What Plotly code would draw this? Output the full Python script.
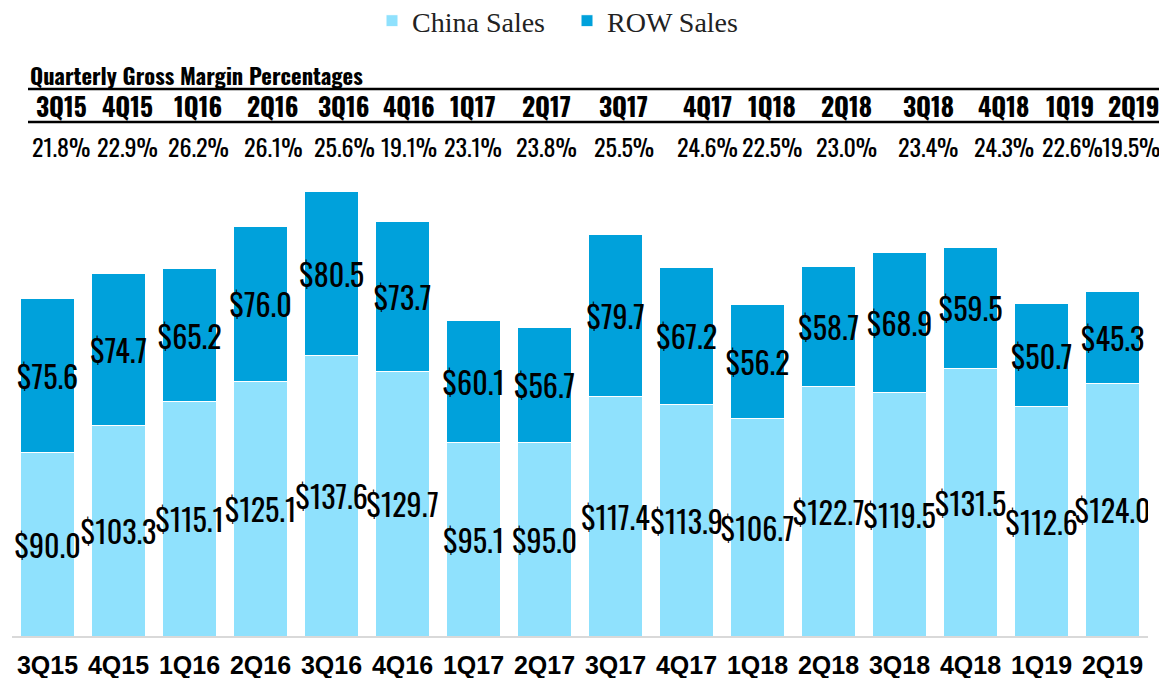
import plotly.graph_objects as go

quarters = ["3Q15", "4Q15", "1Q16", "2Q16", "3Q16", "4Q16", "1Q17", "2Q17",
            "3Q17", "4Q17", "1Q18", "2Q18", "3Q18", "4Q18", "1Q19", "2Q19"]
china_sales = [90.0, 103.3, 115.1, 125.1, 137.6, 129.7, 95.1, 95.0,
               117.4, 113.9, 106.7, 122.7, 119.5, 131.5, 112.6, 124.0]
row_sales = [75.6, 74.7, 65.2, 76.0, 80.5, 73.7, 60.1, 56.7,
             79.7, 67.2, 56.2, 58.7, 68.9, 59.5, 50.7, 45.3]
gross_margin = ["21.8%", "22.9%", "26.2%", "26.1%", "25.6%", "19.1%", "23.1%", "23.8%",
                "25.5%", "24.6%", "22.5%", "23.0%", "23.4%", "24.3%", "22.6%", "19.5%"]

# header table column centres (page pixels), uneven like the source table
header_x = [61, 127, 198, 273, 344, 409, 473, 546, 624, 707, 772, 846, 928, 1004, 1070, 1134]
pct_x = [61, 127, 198, 273, 344, 409, 473, 546, 624, 707, 772, 846, 928, 1004, 1072, 1131]

OFF = 8  # page body margin
W, H = 1167, 678
L, R = 12 - OFF, W - (1148 - OFF)
T, B = 150 - OFF, H - (636 - OFF)
PW, PH = W - L - R, H - T - B


def fx(p):
    return (p - OFF - L) / PW


def fy(p):
    return (H - B - (p - OFF)) / PH


LABEL = "Oswald, Roboto Condensed, sans-serif"

fig = go.Figure()
fig.add_trace(go.Bar(
    x=quarters, y=china_sales, name="China Sales",
    marker=dict(color="#8FE1FD", line=dict(color="white", width=1)),
    text=[f"${v:.1f}" for v in china_sales], textposition="inside",
    insidetextanchor="middle", textangle=0,
    textfont=dict(family=LABEL, size=30, color="black"),
))
fig.add_trace(go.Bar(
    x=quarters, y=row_sales, name="ROW Sales",
    marker=dict(color="#00A1DB", line=dict(color="white", width=1)),
    text=[f"${v:.1f}" for v in row_sales], textposition="inside",
    insidetextanchor="middle", textangle=0,
    textfont=dict(family=LABEL, size=30, color="black"),
))

ann = [dict(text="<b>Quarterly Gross Margin Percentages</b>", x=fx(28), y=fy(75),
            xref="paper", yref="paper", xanchor="left", yanchor="middle", showarrow=False,
            font=dict(family=LABEL, size=22.5, color="black"))]
for q, xp in zip(quarters, header_x):
    ann.append(dict(text=f"<b>{q}</b>", x=fx(xp), y=fy(106), xref="paper", yref="paper",
                    xanchor="center", yanchor="middle", showarrow=False,
                    font=dict(family=LABEL, size=25.5, color="black")))
for g, xp in zip(gross_margin, pct_x):
    ann.append(dict(text=g, x=fx(xp), y=fy(146), xref="paper", yref="paper",
                    xanchor="center", yanchor="middle", showarrow=False,
                    font=dict(family=LABEL, size=24, color="black")))

shapes = [dict(type="line", xref="paper", yref="paper", x0=fx(28), x1=fx(1175),
               y0=fy(yy), y1=fy(yy), line=dict(color="black", width=2.5)) for yy in (89, 122)]

fig.update_layout(
    barmode="stack", bargap=0.24,
    width=W, height=H, margin=dict(l=L, r=R, t=T, b=B),
    plot_bgcolor="white", paper_bgcolor="white",
    uniformtext=dict(mode="show", minsize=30),
    legend=dict(orientation="h", xref="container", yref="container",
                x=(567 - OFF) / W, xanchor="center", y=1 - (21 - OFF) / H, yanchor="middle",
                font=dict(family="Liberation Serif, Times New Roman, serif", size=28, color="#222"),
                traceorder="normal", entrywidth=150),
    xaxis=dict(showline=True, linecolor="#d9d9d9", linewidth=2, ticks="", automargin=False,
               tickfont=dict(family="Liberation Sans, Arial, sans-serif", size=25, color="black"),
               ticklabelstandoff=6, tickprefix="<b>", ticksuffix="</b>"),
    yaxis=dict(range=[0, PH / 2.036], visible=False, showgrid=False, automargin=False),
    annotations=ann, shapes=shapes, showlegend=True,
)

fig.write_html("out.html")
